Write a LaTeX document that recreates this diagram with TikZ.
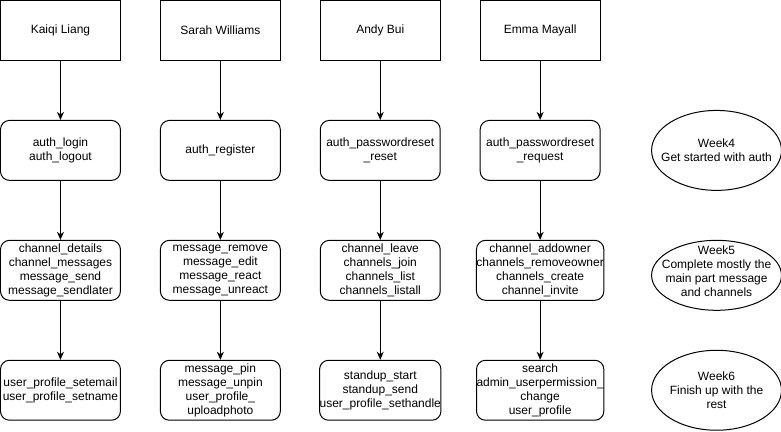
\documentclass[tikz,border=0pt]{standalone}
\usepackage{fontspec}
\setmainfont{Liberation Sans}
\usetikzlibrary{arrows.meta,shapes.geometric}
\begin{document}
\begin{tikzpicture}[x=1pt,y=-1pt,
  every node/.style={font=\fontsize{12}{14}\selectfont, align=center, inner sep=0pt},
  person/.style={draw, line width=1pt, minimum width=120pt, minimum height=60pt},
  task/.style={draw, line width=1pt, rounded corners=9pt, minimum width=120pt, minimum height=60pt},
  week/.style={draw, line width=1pt, ellipse, minimum width=130pt},
  link/.style={line width=1pt, -{Stealth[length=8pt,width=7pt,inset=2.5pt]}}]
\useasboundingbox (-0.5,-0.5) rectangle (781,431);
% row 1
\node[person] (p1) at (60,30) {Kaiqi Liang};
\node[person] (p2) at (220,30) {Sarah Williams};
\node[person] (p3) at (380,30) {Andy Bui};
\node[person] (p4) at (540,30) {Emma Mayall};
% row 2
\node[task] (a1) at (60,150) {auth\_login\\auth\_logout};
\node[task] (a2) at (220,150) {auth\_register};
\node[task] (a3) at (380,150) {auth\_passwordreset\\\_reset};
\node[task] (a4) at (540,150) {auth\_passwordreset\\\_request};
% row 3
\node[task] (b1) at (60,270) {channel\_details\\channel\_messages\\message\_send\\message\_sendlater};
\node[task] (b2) at (220,270) {message\_remove\\message\_edit\\message\_react\\message\_unreact};
\node[task] (b3) at (380,270) {channel\_leave\\channels\_join\\channels\_list\\channels\_listall};
\node[task] (b4) at (540,270) {channel\_addowner\\channels\_removeowner\\channels\_create\\channel\_invite};
% row 4
\node[task] (c1) at (60,390) {user\_profile\_setemail\\user\_profile\_setname};
\node[task] (c2) at (220,390) {message\_pin\\message\_unpin\\user\_profile\_\\uploadphoto};
\node[task] (c3) at (380,390) {standup\_start\\standup\_send\\user\_profile\_sethandle};
\node[task] (c4) at (540,390) {search\\admin\_userpermission\_\\change\\user\_profile};
% weeks
\node[week, minimum height=80pt] (w4) at (716.5,150) {};
\node (w4t) at (w4) {Week4\\Get started with auth};
\node[week, minimum height=70pt] (w5) at (716.5,275) {};
\node (w5t) at (716.5,271) {Week5\\Complete mostly the\\main part message\\and channels};
\node[week, minimum height=80pt] (w6) at (716.5,390) {};
\node (w6t) at (w6) {Week6\\Finish up with the\\rest};
% arrows
\foreach \i in {1,2,3,4}{
  \draw[link] (p\i) -- (a\i);
  \draw[link] (a\i) -- (b\i);
  \draw[link] (b\i) -- (c\i);
}
\end{tikzpicture}
\end{document}
